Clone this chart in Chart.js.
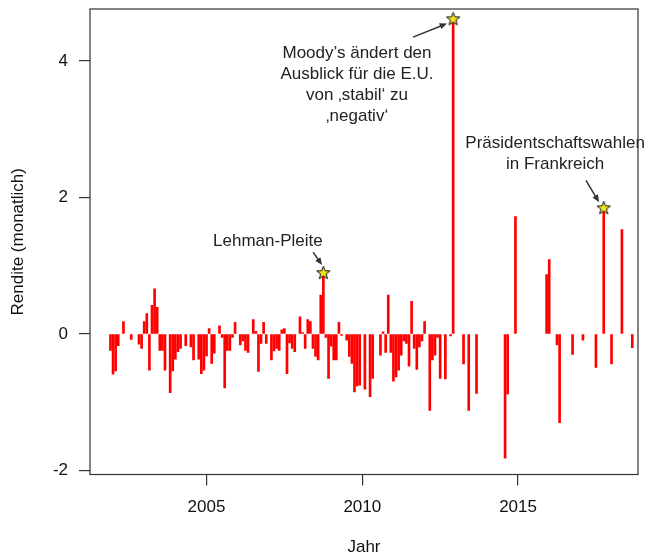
<!DOCTYPE html>
<html>
<head>
<meta charset="utf-8">
<script src="https://cdn.jsdelivr.net/npm/chart.js@4"></script>
<style>
  html, body { margin: 0; padding: 0; background: #fff; }
  #chart { display: block; }
</style>
</head>
<body>
<canvas id="chart" width="651" height="560"></canvas>
<script>
'use strict'

// erster Monat der Reihe (Dez 2001), danach monatlich
const startJahr = 2001 + 11 / 12;

// monatliche Rendite, null = kein Wert
const rendite = [
    -0.24,                                                                       // Dez 2001
    -0.59, -0.54, -0.17, null, 0.18, null, null, -0.08, null, null, -0.15, -0.21, // 2002
    0.18, 0.30, -0.53, 0.42, 0.66, 0.39, -0.24, -0.24, -0.53, null, -0.86, -0.54, // 2003
    -0.37, -0.26, -0.21, null, -0.17, null, -0.19, -0.38, null, -0.37, -0.58, -0.53, // 2004
    -0.32, 0.08, -0.43, -0.28, null, 0.12, -0.05, -0.79, -0.24, -0.24, -0.05, 0.17, // 2005
    null, -0.16, -0.10, -0.24, -0.27, null, 0.21, 0.04, -0.55, -0.14, 0.17, -0.14, // 2006
    null, -0.38, -0.25, -0.21, -0.24, 0.06, 0.08, -0.58, -0.13, -0.21, -0.26, null, // 2007
    0.25, 0.02, -0.21, 0.21, 0.18, -0.21, -0.33, -0.38, 0.57, 0.90, -0.05, -0.65, // 2008
    -0.18, -0.38, -0.38, 0.17, -0.02, null, -0.09, -0.33, -0.43, -0.85, -0.76, -0.75, // 2009
    null, -0.81, null, -0.92, -0.65, null, null, -0.31, 0.03, -0.27, 0.57, -0.27, // 2010
    -0.69, -0.63, -0.53, -0.31, -0.10, -0.14, -0.47, 0.48, -0.21, -0.52, -0.19, -0.10, // 2011
    0.18, null, -1.12, -0.38, -0.31, -0.05, -0.65, null, -0.66, null, -0.03, 4.62, // 2012
    null, null, null, -0.44, null, -1.12, null, null, -0.87, null, null, null, // 2013
    null, null, null, null, null, null, null, -1.82, -0.88, null, null, 1.72, // 2014
    null, null, null, null, null, null, null, null, null, null, null, 0.87, // 2015
    1.09, null, null, -0.16, -1.30, null, null, null, null, -0.30, null, null, // 2016
    null, -0.09, null, null, null, null, -0.49, null, null, 1.85, null, null, // 2017
    -0.44, null, null, null, 1.53, null, null, null, -0.20                   // 2018
];

// markierte Ereignisse (Index in rendite)
const ereignisse = [82, 132, 190];

const xTicks = [2005, 2010, 2015];
const yTicks = [-2, 0, 2, 4];

const notizen = [
    { zeilen: ['Lehman-Pleite'], x: 2006.97, y: 1.36,
      von: [2008.42, 1.20], bis: [2008.71, 1.01] },
    { zeilen: ['Moody\u2019s ändert den', 'Ausblick für die E.U.', 'von \u201Astabil\u2018 zu', '\u201Anegativ\u2018'],
      x: 2009.83, y: 4.11, von: [2011.63, 4.35], bis: [2012.72, 4.55] },
    { zeilen: ['Präsidentschaftswahlen', 'in Frankreich'], x: 2016.19, y: 2.80,
      von: [2017.18, 2.25], bis: [2017.60, 1.93] }
];

const schrift = { family: '"Liberation Sans", Arial, Helvetica, sans-serif', size: 17 };
const dunkel = '#222';

window.onload = inicio;

function inicio() {
    const balken = [];
    for (let i = 0; i < rendite.length; i++) {
        if (rendite[i] === null) continue;
        balken.push({ x: startJahr + i / 12, y: rendite[i] });
    }
    const sterne = ereignisse.map(i => ({ x: startJahr + i / 12, y: rendite[i] }));
    dibujar(balken, sterne);
}

function sternBild() {
    const c = document.createElement('canvas');
    c.width = 17; c.height = 17;
    const g = c.getContext('2d');
    g.beginPath();
    for (let k = 0; k < 10; k++) {
        const r = k % 2 === 0 ? 7 : 2.9;
        const a = -Math.PI / 2 + k * Math.PI / 5;
        const px = 8.5 + r * Math.cos(a);
        const py = 9 + r * Math.sin(a);
        if (k === 0) g.moveTo(px, py); else g.lineTo(px, py);
    }
    g.closePath();
    g.fillStyle = '#f2e31c';
    g.fill();
    g.strokeStyle = '#111';
    g.lineWidth = 1;
    g.stroke();
    return c;
}

// Rahmen um die Zeichenfläche wie bei R
const rahmen = {
    id: 'rahmen',
    afterDraw(chart) {
        const { ctx, chartArea: a } = chart;
        ctx.save();
        ctx.strokeStyle = '#333';
        ctx.lineWidth = 1.2;
        ctx.strokeRect(a.left, a.top, a.right - a.left, a.bottom - a.top);
        ctx.restore();
    }
};

// Beschriftungen mit Pfeilen
const anmerkungen = {
    id: 'anmerkungen',
    afterDatasetsDraw(chart) {
        const { ctx, scales } = chart;
        const sx = scales.x, sy = scales.y;
        ctx.save();
        ctx.font = schrift.size + 'px ' + schrift.family;
        ctx.fillStyle = dunkel;
        ctx.textAlign = 'center';
        ctx.textBaseline = 'middle';
        notizen.forEach(n => {
            const px = sx.getPixelForValue(n.x);
            const py = sy.getPixelForValue(n.y);
            n.zeilen.forEach((z, k) => ctx.fillText(z, px, py + k * 21));

            const x1 = sx.getPixelForValue(n.von[0]), y1 = sy.getPixelForValue(n.von[1]);
            const x2 = sx.getPixelForValue(n.bis[0]), y2 = sy.getPixelForValue(n.bis[1]);
            const w = Math.atan2(y2 - y1, x2 - x1);
            ctx.strokeStyle = '#333';
            ctx.lineWidth = 1.5;
            ctx.beginPath();
            ctx.moveTo(x1, y1);
            ctx.lineTo(x2 - 4 * Math.cos(w), y2 - 4 * Math.sin(w));
            ctx.stroke();
            ctx.fillStyle = '#333';
            ctx.beginPath();
            ctx.moveTo(x2, y2);
            ctx.lineTo(x2 - 8 * Math.cos(w - 0.4), y2 - 8 * Math.sin(w - 0.4));
            ctx.lineTo(x2 - 8 * Math.cos(w + 0.4), y2 - 8 * Math.sin(w + 0.4));
            ctx.closePath();
            ctx.fill();
            ctx.fillStyle = dunkel;
        });
        ctx.restore();
    }
};

function dibujar(balken, sterne) {
    const ctx = document.getElementById('chart').getContext('2d');

    const myChart = new Chart(ctx, {
        type: 'bar',
        data: {
            datasets: [{
                type: 'line',
                label: 'Ereignisse',
                data: sterne,
                showLine: false,
                pointStyle: sternBild(),
                order: 0
            }, {
                label: 'Rendite',
                data: balken,
                backgroundColor: '#ff0000',
                barThickness: 2,
                order: 1
            }]
        },
        options: {
            responsive: false,
            animation: false,
            events: [],
            layout: { padding: { top: 9, right: 13, left: 0, bottom: 0 } },
            plugins: {
                legend: { display: false },
                tooltip: { enabled: false }
            },
            scales: {
                x: {
                    type: 'linear',
                    min: 2001.26,
                    max: 2018.85,
                    offset: false,
                    afterFit(s) { s.height = 85.5; s.paddingLeft = 0; s.paddingRight = 0; },
                    afterBuildTicks(s) { s.ticks = xTicks.map(v => ({ value: v })); },
                    grid: { offset: false, drawOnChartArea: false, drawTicks: true, tickLength: 11, color: '#333', lineWidth: 1.2 },
                    border: { display: false },
                    ticks: { font: schrift, color: '#111', padding: 12, maxRotation: 0, callback: v => String(v) },
                    title: { display: true, text: 'Jahr', font: schrift, color: '#111', padding: { top: 0, bottom: 2 } }
                },
                y: {
                    min: -2.059,
                    max: 4.762,
                    afterFit(s) { s.width = 90; s.paddingTop = 0; s.paddingBottom = 0; },
                    afterBuildTicks(s) { s.ticks = yTicks.map(v => ({ value: v })); },
                    grid: { drawOnChartArea: false, drawTicks: true, tickLength: 11, color: '#333', lineWidth: 1.2 },
                    border: { display: false },
                    ticks: { font: schrift, color: '#111', padding: 11, callback: v => String(v) },
                    title: { display: true, text: 'Rendite (monatlich)', font: schrift, color: '#111', padding: { top: 8, bottom: 0 } }
                }
            }
        },
        plugins: [rahmen, anmerkungen]
    });
}
</script>
</body>
</html>
